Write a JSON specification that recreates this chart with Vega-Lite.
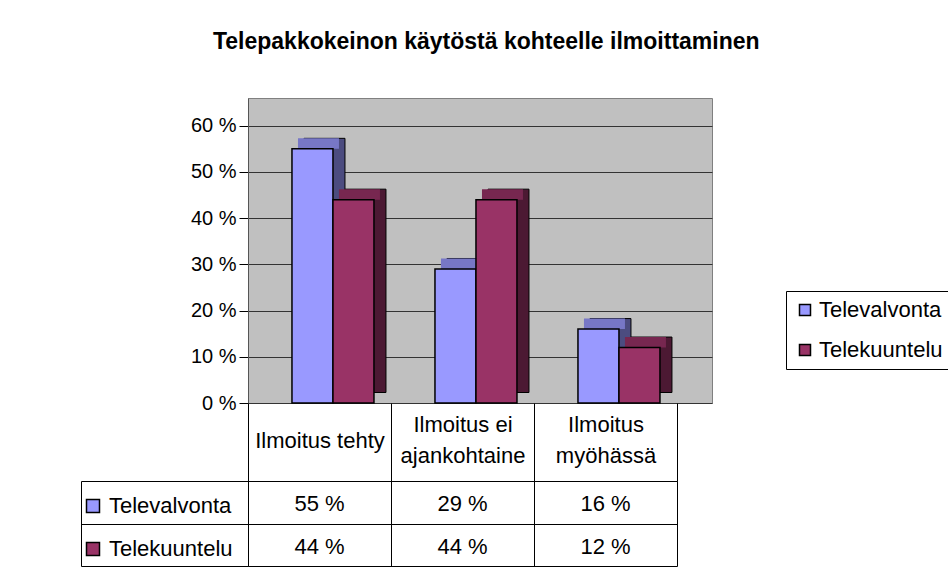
{
  "$schema": "https://vega.github.io/schema/vega-lite/v6.json",
  "padding": {"left": 80, "top": 30, "right": 0, "bottom": 5},
  "background": "white",
  "title": {
    "text": "Telepakkokeinon käytöstä kohteelle ilmoittaminen",
    "fontSize": 23,
    "fontWeight": "bold",
    "font": "Liberation Sans",
    "color": "black",
    "anchor": "middle",
    "dx": -30,
    "offset": 44
  },
  "data": {
    "values": [
      {"kategoria": "Ilmoitus tehty", "sarja": "Televalvonta", "arvo": 0.55},
      {"kategoria": "Ilmoitus tehty", "sarja": "Telekuuntelu", "arvo": 0.44},
      {"kategoria": "Ilmoitus ei ajankohtaine", "sarja": "Televalvonta", "arvo": 0.29},
      {"kategoria": "Ilmoitus ei ajankohtaine", "sarja": "Telekuuntelu", "arvo": 0.44},
      {"kategoria": "Ilmoitus myöhässä", "sarja": "Televalvonta", "arvo": 0.16},
      {"kategoria": "Ilmoitus myöhässä", "sarja": "Telekuuntelu", "arvo": 0.12}
    ]
  },
  "vconcat": [
    {
      "width": 464,
      "height": 305,
      "view": {"fill": "#C0C0C0", "stroke": "#808080"},
      "encoding": {
        "x": {
          "field": "kategoria", "type": "nominal",
          "sort": ["Ilmoitus tehty", "Ilmoitus ei ajankohtaine", "Ilmoitus myöhässä"],
          "scale": {"paddingInner": 0.4266, "paddingOuter": 0.3357, "align": 0.458},
          "axis": null
        },
        "y": {
          "field": "arvo", "type": "quantitative",
          "scale": {"domain": [0, 0.66], "nice": false, "zero": true},
          "axis": {
            "title": null,
            "values": [0, 0.1, 0.2, 0.3, 0.4, 0.5, 0.6],
            "format": ".0%",
            "labelFontSize": 20,
            "labelColor": "black",
            "labelPadding": 3,
            "tickSize": 9,
            "tickColor": "black",
            "domainColor": "#555555",
            "grid": true,
            "gridColor": "#333333",
            "gridOpacity": 1
          }
        }
      },
      "layer": [
        {
          "mark": {"type": "bar", "yOffset": -10.5, "y2Offset": -10.5, "stroke": "black", "strokeWidth": 1},
          "encoding": {
            "xOffset": {"field": "sarja", "sort": ["Televalvonta", "Telekuuntelu"], "scale": {"range": [12, 94], "paddingInner": 0, "paddingOuter": 0}},
            "fill": {"condition": {"test": "datum.sarja === 'Televalvonta'", "value": "#4C4C80"}, "value": "#4C1933"}
          }
        },
        {
          "mark": {"type": "bar", "yOffset": -10.5, "y2Offset": 0},
          "encoding": {
            "xOffset": {"field": "sarja", "sort": ["Televalvonta", "Telekuuntelu"], "scale": {"range": [6, 88], "paddingInner": 0, "paddingOuter": 0}},
            "y2": {"field": "arvo"},
            "fill": {"condition": {"test": "datum.sarja === 'Televalvonta'", "value": "#7777C6"}, "value": "#772750"}
          }
        },
        {
          "mark": {"type": "bar", "stroke": "black", "strokeWidth": 1.5},
          "encoding": {
            "xOffset": {"field": "sarja", "sort": ["Televalvonta", "Telekuuntelu"], "scale": {"range": [0, 82], "paddingInner": 0, "paddingOuter": 0}},
            "color": {
              "field": "sarja", "type": "nominal",
              "scale": {"domain": ["Televalvonta", "Telekuuntelu"], "range": ["#9999FF", "#993366"]},
              "legend": {
                "title": null,
                "orient": "none",
                "legendX": 538,
                "legendY": 193,
                "strokeColor": "black",
                "padding": 8,
                "labelFontSize": 22,
                "labelColor": "black",
                "labelOffset": 3,
                "rowPadding": 18,
                "symbolType": "square",
                "symbolSize": 121,
                "symbolStrokeColor": "black",
                "symbolStrokeWidth": 1.5
              }
            }
          }
        }
      ],
      "resolve": {"scale": {"xOffset": "independent"}}
    },
    {
      "width": 429,
      "height": 85,
      "view": {"stroke": null},
      "layer": [
        {
          "mark": {"type": "text", "fontSize": 22, "color": "black", "dy": 2},
          "encoding": {
            "x": {
              "field": "kategoria", "type": "nominal",
              "sort": ["Ilmoitus tehty", "Ilmoitus ei ajankohtaine", "Ilmoitus myöhässä"],
              "scale": {"paddingInner": 0, "paddingOuter": 0},
              "axis": {
                "orient": "top",
                "title": null,
                "tickBand": "extent",
                "tickSize": 78,
                "tickColor": "black",
                "domainColor": "black",
                "grid": true,
                "gridColor": "black",
                "gridOpacity": 1,
                "labelAngle": 0,
                "labelFontSize": 22,
                "labelColor": "black",
                "labelPadding": {"condition": {"test": "datum.value === 'Ilmoitus tehty'", "value": -37}, "value": -21.5},
                "labelBaseline": "middle",
                "labelLineHeight": 31,
                "labelOverlap": false,
                "labelLimit": 0,
                "labelExpr": "datum.value === 'Ilmoitus ei ajankohtaine' ? ['Ilmoitus ei', 'ajankohtaine'] : datum.value === 'Ilmoitus myöhässä' ? ['Ilmoitus', 'myöhässä'] : datum.value"
              }
            },
            "y": {
              "field": "sarja", "type": "nominal",
              "sort": ["Televalvonta", "Telekuuntelu"],
              "scale": {"paddingInner": 0, "paddingOuter": 0},
              "axis": {
                "orient": "left",
                "title": null,
                "tickBand": "extent",
                "tickSize": 167,
                "tickColor": "black",
                "domainColor": "black",
                "labels": false,
                "grid": true,
                "gridColor": "black",
                "gridOpacity": 1
              }
            },
            "text": {"field": "arvo", "type": "quantitative", "format": ".0%"}
          }
        },
        {
          "mark": {"type": "point", "opacity": 0, "filled": true},
          "encoding": {
            "x": {"field": "kategoria", "type": "nominal", "sort": ["Ilmoitus tehty", "Ilmoitus ei ajankohtaine", "Ilmoitus myöhässä"]},
            "y": {
              "field": "sarja", "type": "nominal",
              "sort": ["Televalvonta", "Telekuuntelu"],
              "axis": {"orient": "left", "offset": 167, "title": null, "ticks": false, "labels": false, "grid": false, "domainColor": "black"}
            },
            "fill": {
              "field": "sarja", "type": "nominal",
              "scale": {"domain": ["Televalvonta", "Telekuuntelu"], "range": ["#9999FF", "#993366"]},
              "legend": {
                "title": null,
                "orient": "none",
                "legendX": -166,
                "legendY": 14,
                "padding": 0,
                "labelFontSize": 22,
                "labelColor": "black",
                "labelOffset": 5,
                "rowPadding": 21,
                "symbolType": "square",
                "symbolSize": 169,
                "symbolOpacity": 1,
                "symbolStrokeColor": "black",
                "symbolStrokeWidth": 1.5
              }
            }
          }
        }
      ],
      "resolve": {"scale": {"y": "independent"}, "axis": {"y": "independent"}}
    }
  ],
  "spacing": 78,
  "bounds": "flush",
  "resolve": {"legend": {"color": "independent", "fill": "independent"}},
  "config": {
    "font": "Liberation Sans",
    "locale": {"number": {"decimal": ",", "thousands": " ", "grouping": [3], "currency": ["", " €"], "percent": " %"}},
    "axis": {"labelFont": "Liberation Sans"},
    "legend": {"labelFont": "Liberation Sans"}
  }
}
